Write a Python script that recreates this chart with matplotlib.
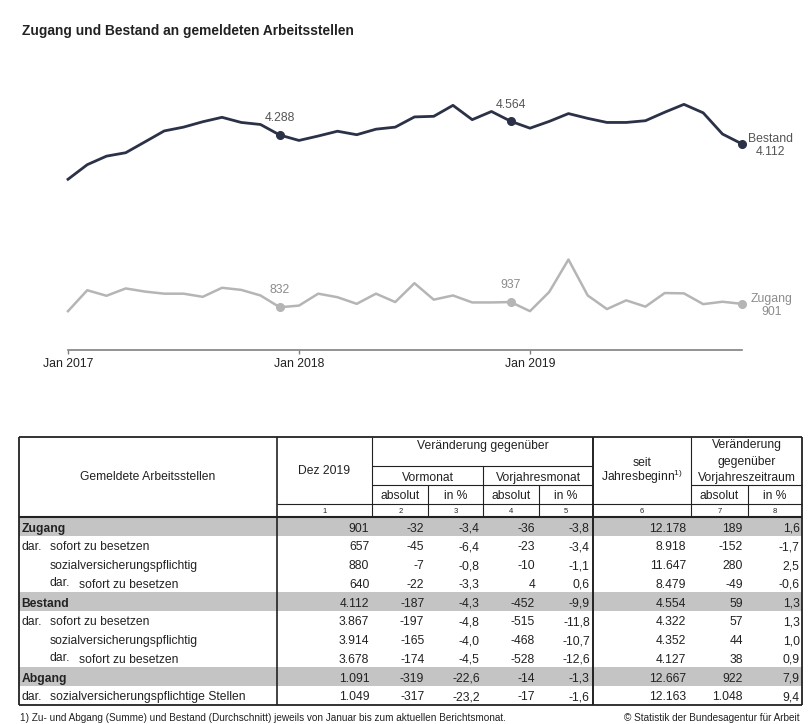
import matplotlib
matplotlib.use('Agg')
import matplotlib.pyplot as plt

plt.rcParams['font.family'] = ['Liberation Sans', 'DejaVu Sans']

# monthly values Jan 2017 .. Dez 2019
months = list(range(36))
bestand = [3400, 3693, 3864, 3933, 4151, 4370, 4446, 4554, 4643, 4540, 4499, 4288,
           4179, 4268, 4364, 4294, 4405, 4446, 4651, 4663, 4883, 4596, 4760, 4564,
           4425, 4561, 4718, 4622, 4540, 4540, 4575, 4745, 4903, 4733, 4308, 4112]
zugang = [754, 1174, 1063, 1210, 1147, 1105, 1105, 1042, 1223, 1181, 1069, 832,
          866, 1105, 1034, 901, 1105, 937, 1315, 985, 1069, 929, 929, 937,
          754, 1139, 1790, 1069, 796, 971, 845, 1118, 1111, 895, 943, 901]
tick_pos = [0, 12, 24]
tick_labels = ['Jan 2017', 'Jan 2018', 'Jan 2019']
marked = [11, 23]

# table
row_prefix = ['', 'dar.', '', 'dar.', '', 'dar.', '', 'dar.', '', 'dar.']
row_text = ['Zugang', 'sofort zu besetzen', 'sozialversicherungspflichtig', 'sofort zu besetzen',
            'Bestand', 'sofort zu besetzen', 'sozialversicherungspflichtig', 'sofort zu besetzen',
            'Abgang', 'sozialversicherungspflichtige Stellen']
row_level = [0, 1, 1, 2, 0, 1, 1, 2, 0, 1]
row_bold = [True, False, False, False, True, False, False, False, True, False]
dez = [901, 657, 880, 640, 4112, 3867, 3914, 3678, 1091, 1049]
vm_abs = [-32, -45, -7, -22, -187, -197, -165, -174, -319, -317]
vm_pct = [-3.4, -6.4, -0.8, -3.3, -4.3, -4.8, -4.0, -4.5, -22.6, -23.2]
vj_abs = [-36, -23, -10, 4, -452, -515, -468, -528, -14, -17]
vj_pct = [-3.8, -3.4, -1.1, 0.6, -9.9, -11.8, -10.7, -12.6, -1.3, -1.6]
seit = [12178, 8918, 11647, 8479, 4554, 4322, 4352, 4127, 12667, 12163]
vz_abs = [189, -152, 280, -49, 59, 57, 44, 38, 922, 1048]
vz_pct = [1.6, -1.7, 2.5, -0.6, 1.3, 1.3, 1.0, 0.9, 7.9, 9.4]


def fint(v):
    return f"{v:,}".replace(',', '.')


def fpct(v):
    return f"{v:.1f}".replace('.', ',')


W, H = 810, 724
fig = plt.figure(figsize=(W / 100, H / 100), dpi=100)
fig.patch.set_facecolor('white')

# ---- line chart ----
ax = fig.add_axes([68 / W, 1 - 350 / H, (741.7 - 68) / W, 260 / H])
ax.set_xlim(0, 35)
ax.set_ylim(-25, 5191)
ax.patch.set_alpha(0)
dark = '#2b3147'
light = '#b5b5b5'
ax.plot(months, bestand, color=dark, lw=2.0, solid_joinstyle='round', clip_on=False)
ax.plot(months, zugang, color=light, lw=1.8, solid_joinstyle='round', clip_on=False)
for m in marked + [35]:
    ax.plot(m, bestand[m], 'o', color=dark, ms=5.5, clip_on=False)
    ax.plot(m, zugang[m], 'o', color=light, ms=5.5, clip_on=False)
for m in marked:
    ax.annotate(fint(bestand[m]), (m, bestand[m]), xytext=(0, 12), textcoords='offset points',
                ha='center', va='center', fontsize=8.8, color='#555555')
    ax.annotate(fint(zugang[m]), (m, zugang[m]), xytext=(0, 12.5), textcoords='offset points',
                ha='center', va='center', fontsize=8.8, color='#8c8c8c')
ax.annotate('Bestand\n' + fint(bestand[35]), (35, bestand[35]), xytext=(20.4, -1),
            textcoords='offset points', ha='center', va='center', fontsize=8.8,
            color='#555555', linespacing=1.1, annotation_clip=False)
ax.annotate('Zugang\n' + fint(zugang[35]), (35, zugang[35]), xytext=(21.5, -1),
            textcoords='offset points', ha='center', va='center', fontsize=8.8,
            color='#8c8c8c', linespacing=1.1, annotation_clip=False)
for s in ['top', 'right', 'left']:
    ax.spines[s].set_visible(False)
ax.spines['bottom'].set_color('#808080')
ax.spines['bottom'].set_linewidth(1.2)
ax.set_yticks([])
ax.set_xticks(tick_pos)
ax.set_xticklabels(tick_labels, fontsize=8.8, color='#222222')
ax.tick_params(axis='x', length=3, width=1, color='#808080', pad=3)

fig.text(21.7 / W, 1 - 31.5 / H, 'Zugang und Bestand an gemeldeten Arbeitsstellen',
         fontsize=9.9, fontweight='bold', color='#222222', va='center', ha='left')

# ---- table ----
t = fig.add_axes([0, 0, 1, 1])
t.set_xlim(0, W)
t.set_ylim(H, 0)
t.axis('off')
t.patch.set_alpha(0)

cx = [19.3, 276.7, 372.3, 428.3, 483.3, 539, 593.3, 691, 747.7, 802.3]
hy = [437.3, 466, 485, 504, 517.3]
top_rows = hy[4]
bottom = 705
rh = (bottom - top_rows) / len(row_text)
lc = '#222222'
fs = 8.7
bl = 4.35  # center of caps -> baseline offset (px)

for i, b in enumerate(row_bold):
    if b:
        y0 = top_rows + i * rh
        t.fill_between([cx[0], cx[-1]], y0, y0 + rh, color='#c4c4c4', lw=0, zorder=0)


def hl(y, x0, x1, lw=0.8):
    t.plot([x0, x1], [y, y], color=lc, lw=lw, solid_capstyle='butt')


def vl(x, y0, y1, lw=0.8):
    t.plot([x, x], [y0, y1], color=lc, lw=lw, solid_capstyle='butt')


def txt(x, y, s, ha='center', size=fs, off=bl, **kw):
    t.text(x, y + off, s, ha=ha, va='baseline', fontsize=size, color='#222222', **kw)


# outer frame and main separators
hl(hy[0], cx[0], cx[-1], 1.3)
hl(bottom, cx[0], cx[-1], 1.3)
vl(cx[0], hy[0], bottom, 1.3)
vl(cx[-1], hy[0], bottom, 1.3)
vl(cx[1], hy[0], bottom, 1.2)
vl(cx[6], hy[0], bottom, 1.4)
hl(hy[4], cx[0], cx[-1], 1.5)
# header grid
vl(cx[2], hy[0], hy[4])
vl(cx[7], hy[0], hy[4])
vl(cx[4], hy[1], hy[4])
vl(cx[3], hy[2], hy[4])
vl(cx[5], hy[2], hy[4])
vl(cx[8], hy[2], hy[4])
hl(hy[1], cx[2], cx[6])
hl(hy[2], cx[2], cx[6])
hl(hy[2], cx[7], cx[9])
hl(hy[3], cx[1], cx[9])

txt(147.5, 476, 'Gemeldete Arbeitsstellen')
txt(324, 470, 'Dez 2019')
txt((cx[2] + cx[6]) / 2, 445, 'Veränderung gegenüber')
txt((cx[2] + cx[4]) / 2, 476.5, 'Vormonat')
txt((cx[4] + cx[6]) / 2, 476.5, 'Vorjahresmonat')
txt(641.7, 462, 'seit')
txt(642, 477, r'Jahresbeginn$^{\mathregular{1)}}$')
txt((cx[7] + cx[9]) / 2, 444, 'Veränderung')
txt((cx[7] + cx[9]) / 2, 460.5, 'gegenüber')
txt((cx[7] + cx[9]) / 2, 476.5, 'Vorjahreszeitraum')
for j, lab in zip([2, 3, 4, 5, 7, 8], ['absolut', 'in %', 'absolut', 'in %', 'absolut', 'in %']):
    txt((cx[j] + cx[j + 1]) / 2, 495, lab)
for j in range(1, 9):
    txt((cx[j] + cx[j + 1]) / 2, 510.7, str(j), size=5.5, off=2.7)

cols = [dez, vm_abs, vm_pct, vj_abs, vj_pct, seit, vz_abs, vz_pct]
fmts = [fint, fint, fpct, fint, fpct, fint, fint, fpct]
pads = [3, 4, 3.5, 4, 3.5, 5, 5, 2.5]
xs = [21.7, 50, 79.3]
for i in range(len(row_text)):
    yc = top_rows + (i + 0.5) * rh + 0.5
    w = 'bold' if row_bold[i] else 'normal'
    lv = row_level[i]
    if row_prefix[i]:
        txt(xs[lv - 1], yc - (1.5 if lv == 2 else 0), row_prefix[i], ha='left')
    txt(xs[lv], yc, row_text[i], ha='left', fontweight=w)
    for j, (col, f) in enumerate(zip(cols, fmts)):
        txt(cx[j + 2] - pads[j], yc, f(col[i]), ha='right')

txt(20, 717.5, '1) Zu- und Abgang (Summe) und Bestand (Durchschnitt) jeweils von Januar bis zum aktuellen Berichtsmonat.',
    ha='left', size=7.2, off=3.6)
txt(800, 717.5, '© Statistik der Bundesagentur für Arbeit', ha='right', size=7.2, off=3.6)

fig.savefig('out.png', dpi=100)
